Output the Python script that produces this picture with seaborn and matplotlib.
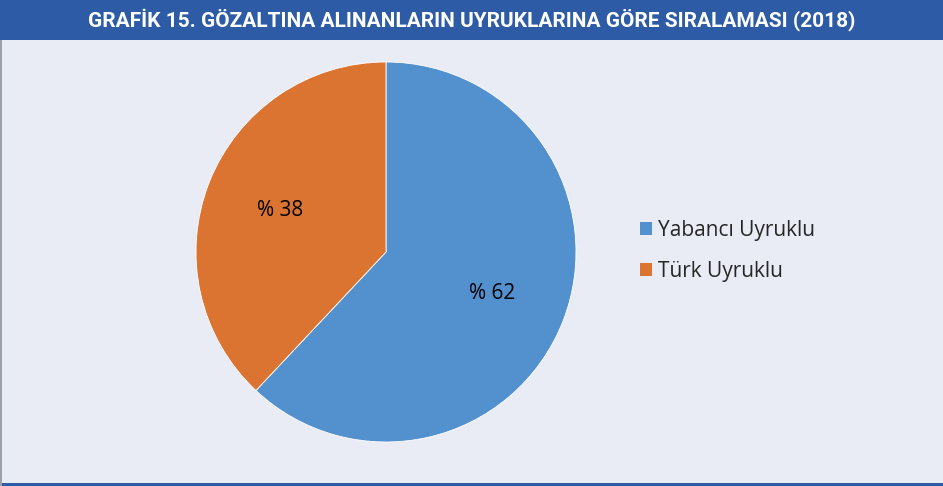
import matplotlib
matplotlib.use("Agg")
import matplotlib.pyplot as plt
import seaborn as sns
from matplotlib.patches import Rectangle, Patch

# Data
labels = ["Yabancı Uyruklu", "Türk Uyruklu"]
values = [62, 38]
colors = ["#5390CE", "#DB7331"]
title = "GRAFİK 15. GÖZALTINA ALINANLARIN UYRUKLARINA GÖRE SIRALAMASI (2018)"

sns.set_theme(style="white")
plt.rcParams['font.family'] = ['Open Sans', 'DejaVu Sans']

fig = plt.figure(figsize=(9.43, 4.86), dpi=100)
fig.patch.set_facecolor("#E9ECF5")

# title bar and frame
fig.patches.append(Rectangle((0, 1 - 40 / 486), 1, 40 / 486, transform=fig.transFigure,
                             facecolor="#2D5BA5", edgecolor="none", zorder=0))
fig.patches.append(Rectangle((0, 0), 1, 3 / 486, transform=fig.transFigure,
                             facecolor="#2D5BA5", edgecolor="none", zorder=0))
fig.patches.append(Rectangle((0, 0), 2 / 943, 446 / 486, transform=fig.transFigure,
                             facecolor="#9AA0AA", edgecolor="none", zorder=0))
fig.text(0.5, 1 - 20 / 486, title, ha="center", va="center", color="white",
         fontsize=15, fontweight="bold", family=['Roboto', 'DejaVu Sans'])

# pie
ax = fig.add_axes([196 / 943, 44 / 486, 380 / 943, 380 / 486])
wedges, texts, autotexts = ax.pie(values, colors=colors, startangle=90, counterclock=False,
                                  autopct=lambda p: f"% {p:.0f}", pctdistance=0.6,
                                  wedgeprops=dict(edgecolor="white", linewidth=0.6),
                                  textprops=dict(fontsize=15, color="black"))
ax.set_xlim(-1, 1)
ax.set_ylim(-1, 1)
ax.set_aspect("equal")

handles = [Patch(facecolor=c, edgecolor="none") for c in colors]
fig.legend(handles, labels, loc="center left", bbox_to_anchor=(621 / 943, 1 - 251 / 486),
           frameon=False, fontsize=15, handlelength=0.6, handleheight=0.6,
           handletextpad=0.3, labelspacing=0.95)

plt.savefig("out.png", dpi=100, facecolor=fig.get_facecolor())
plt.close()
